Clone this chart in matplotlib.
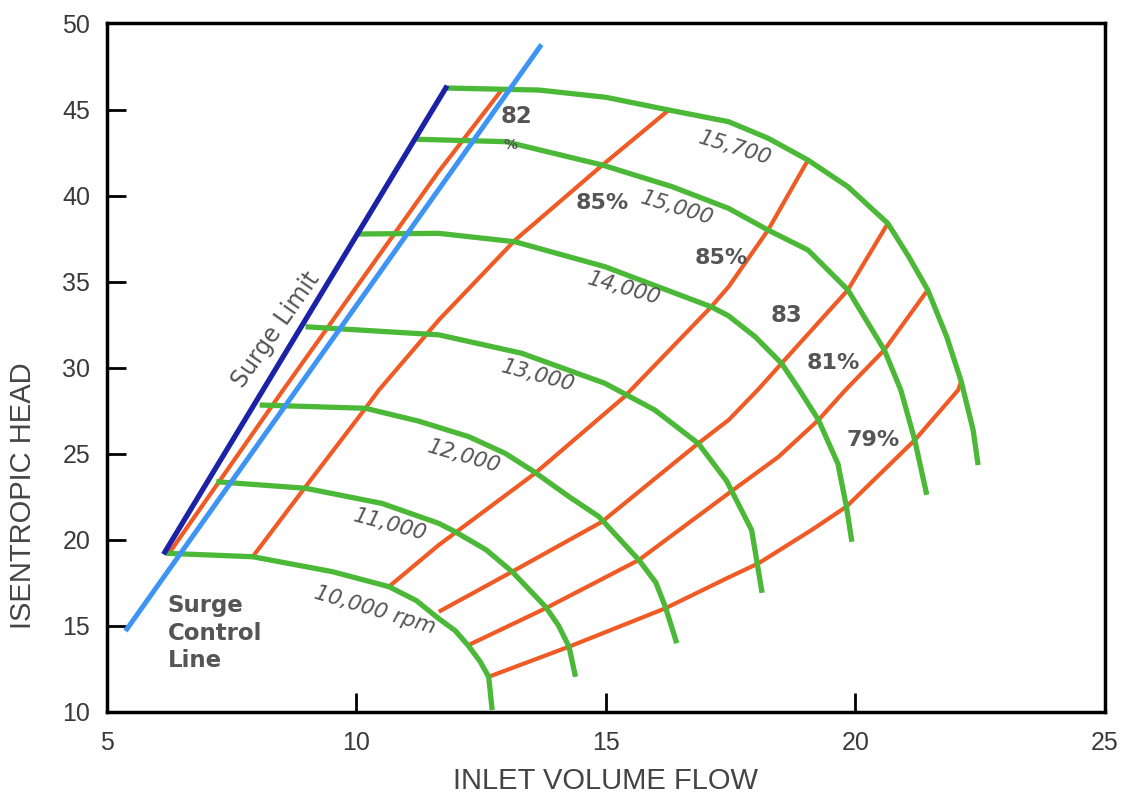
import matplotlib.pyplot as plt

# speed lines (green)
rpm_10000_x = [6.19, 7.92, 9.52, 10.65, 11.2, 11.65, 11.98, 12.25, 12.48, 12.65, 12.72]
rpm_10000_y = [19.2, 19.0, 18.13, 17.26, 16.45, 15.4, 14.7, 13.8, 12.9, 12.02, 10.09]
rpm_11000_x = [7.19, 8.98, 10.51, 11.65, 11.98, 12.6, 13.12, 13.79, 14.05, 14.26, 14.39]
rpm_11000_y = [23.36, 22.98, 22.1, 20.94, 20.45, 19.4, 18.13, 16.09, 15.0, 13.77, 12.02]
rpm_12000_x = [8.06, 10.18, 11.25, 12.25, 12.98, 13.56, 14.26, 14.86, 15.66, 16.0, 16.19, 16.42]
rpm_12000_y = [27.82, 27.63, 26.88, 25.98, 25.01, 23.94, 22.49, 21.33, 18.81, 17.5, 16.09, 13.97]
rpm_13000_x = [8.98, 11.65, 13.31, 14.98, 15.98, 16.85, 17.42, 17.92, 18.13]
rpm_13000_y = [32.37, 31.9, 30.83, 29.08, 27.53, 25.59, 23.4, 20.55, 16.9]
rpm_14000_x = [9.98, 11.65, 13.18, 14.98, 17.11, 17.46, 17.99, 18.52, 18.88, 19.26, 19.65, 19.82, 19.93]
rpm_14000_y = [37.76, 37.8, 37.31, 35.86, 33.53, 33.0, 31.79, 30.24, 28.69, 26.95, 24.4, 21.91, 19.87]
rpm_15000_x = [11.21, 12.99, 14.93, 16.33, 17.46, 18.25, 19.05, 19.85, 20.58, 20.91, 21.19, 21.43]
rpm_15000_y = [43.27, 43.13, 41.77, 40.51, 39.25, 37.99, 36.83, 34.51, 31.02, 28.69, 25.78, 22.6]
rpm_15700_x = [11.79, 13.66, 15.0, 16.26, 17.46, 18.25, 19.05, 19.85, 20.65, 21.07, 21.45, 21.83, 22.12, 22.36, 22.46]
rpm_15700_y = [46.25, 46.13, 45.71, 44.97, 44.29, 43.33, 42.06, 40.51, 38.38, 36.44, 34.51, 31.79, 29.2, 26.36, 24.33]

# efficiency lines (orange)
eff_a_x = [6.26, 8.53, 11.65, 12.9]
eff_a_y = [19.27, 28.69, 41.4, 46.1]
eff_b_x = [7.92, 8.98, 10.18, 10.45, 11.65, 13.18, 14.93, 16.26]
eff_b_y = [19.0, 23.07, 27.63, 28.69, 32.76, 37.41, 41.77, 44.97]
eff_c_x = [10.65, 11.65, 13.58, 15.37, 17.11, 17.46, 18.25, 19.05]
eff_c_y = [17.26, 19.68, 23.85, 28.3, 33.53, 34.7, 37.99, 42.06]
eff_d_x = [11.65, 13.12, 14.92, 16.85, 17.46, 18.04, 18.52, 19.85, 20.65]
eff_d_y = [15.8, 18.13, 21.03, 25.59, 26.95, 28.69, 30.24, 34.51, 38.38]
eff_e_x = [12.25, 13.79, 15.66, 17.46, 18.46, 19.26, 19.8, 20.58, 21.45]
eff_e_y = [13.87, 16.0, 18.81, 22.69, 24.81, 26.95, 28.69, 31.02, 34.51]
eff_f_x = [12.65, 14.26, 16.19, 17.46, 18.06, 19.12, 19.82, 21.19, 22.06, 22.12]
eff_f_y = [12.02, 13.77, 16.0, 17.8, 18.62, 20.55, 21.91, 25.78, 28.69, 29.2]

surge_limit_x = [6.16, 11.79]
surge_limit_y = [19.27, 46.25]
surge_ctrl_x = [5.4, 13.68]
surge_ctrl_y = [14.8, 48.66]

green = '#4cb838'
orange = '#f05a24'
grey = '#555555'

plt.rcParams['font.family'] = ['Liberation Sans', 'DejaVu Sans']

fig = plt.figure(figsize=(11.25, 8.02), dpi=100)
ax = fig.add_axes([0.0951, 0.1128, 0.887, 0.8579])

speeds = [(rpm_10000_x, rpm_10000_y), (rpm_11000_x, rpm_11000_y), (rpm_12000_x, rpm_12000_y),
          (rpm_13000_x, rpm_13000_y), (rpm_14000_x, rpm_14000_y), (rpm_15000_x, rpm_15000_y),
          (rpm_15700_x, rpm_15700_y)]
effs = [(eff_a_x, eff_a_y), (eff_b_x, eff_b_y), (eff_c_x, eff_c_y),
        (eff_d_x, eff_d_y), (eff_e_x, eff_e_y), (eff_f_x, eff_f_y)]

for xs, ys in effs:
    ax.plot(xs, ys, color=orange, lw=3.0, solid_capstyle='butt', solid_joinstyle='round')
for xs, ys in speeds:
    ax.plot(xs, ys, color=green, lw=3.8, solid_capstyle='butt', solid_joinstyle='round')
ax.plot(surge_limit_x, surge_limit_y, color='#1b22a8', lw=3.8)
ax.plot(surge_ctrl_x, surge_ctrl_y, color='#3d94f5', lw=3.6)

# efficiency labels
lab = dict(color=grey, fontweight='bold', ha='center', va='center', family='DejaVu Sans')
ax.text(13.21, 44.62, '82', fontsize=16.5, **lab)
ax.text(13.09, 42.94, '%', fontsize=10, **lab)
ax.text(14.93, 39.55, '85%', fontsize=16, **lab)
ax.text(17.32, 36.37, '85%', fontsize=16, **lab)
ax.text(18.61, 33.05, '83', fontsize=16.5, **lab)
ax.text(19.56, 30.24, '81%', fontsize=16, **lab)
ax.text(20.36, 25.78, '79%', fontsize=16, **lab)

# speed labels
rl = dict(color=grey, style='italic', ha='center', va='center', fontsize=15.5, family='DejaVu Sans')
ax.text(17.6, 42.76, '15,700', rotation=-17, **rl)
ax.text(16.42, 39.26, '15,000', rotation=-17, **rl)
ax.text(15.37, 34.6, '14,000', rotation=-16, **rl)
ax.text(13.64, 29.5, '13,000', rotation=-15, **rl)
ax.text(12.16, 24.8, '12,000', rotation=-16, **rl)
ax.text(10.68, 20.84, '11,000', rotation=-15, **rl)
ax.text(10.38, 15.9, '10,000 rpm', rotation=-16.5, **rl)

ax.text(8.39, 32.18, 'Surge Limit', rotation=55, fontsize=17, color=grey,
        ha='center', va='center', family='DejaVu Sans')
ax.text(6.22, 14.56, 'Surge\nControl\nLine', fontsize=16.5, color=grey, fontweight='bold',
        ha='left', va='center', linespacing=1.25, family='DejaVu Sans')

ax.set_xlim(5, 25)
ax.set_ylim(10, 50)
ax.set_xticks([5, 10, 15, 20, 25])
ax.set_yticks(range(10, 51, 5))
ax.tick_params(direction='in', length=14, width=2, labelsize=18, labelcolor='#3a3a3a')
ax.tick_params(axis='x', pad=14)
ax.tick_params(axis='y', pad=12)
for s in ax.spines.values():
    s.set_linewidth(2.5)
ax.set_xlabel('INLET VOLUME FLOW', fontsize=21, color='#444444', labelpad=9)
ax.set_ylabel('ISENTROPIC HEAD', fontsize=21, color='#444444')
ax.yaxis.set_label_coords(-0.07, 0.313)

fig.savefig('out.png', dpi=100)
